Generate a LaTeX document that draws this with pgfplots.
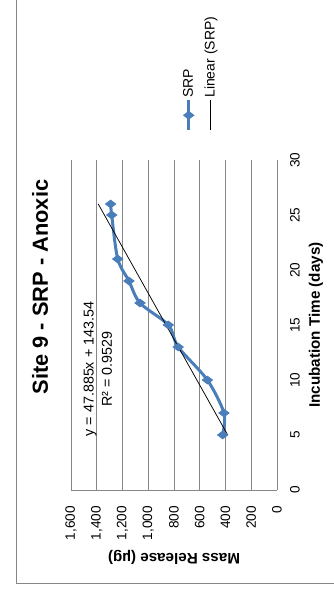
\documentclass[border=0pt]{standalone}
\usepackage{fontspec}
\setmainfont{Liberation Sans}
\usepackage{pgfplots}
\pgfplotsset{compat=1.18}
\definecolor{srpblue}{RGB}{74,126,187}
\definecolor{gridgray}{RGB}{134,134,134}
\begin{document}
\begin{tikzpicture}[rotate=90, transform shape]
% the chart is laid out unrotated (589 x 333) and turned a quarter turn
\useasboundingbox (0pt,0pt) rectangle (589pt,333pt);
\draw[gridgray, line width=0.75pt] (6pt,-5pt) -- (6pt,317pt) -- (600pt,317pt);
\node[font=\fontsize{21.8}{26}\selectfont\bfseries] at (302pt,293pt) {Site 9 - SRP - Anoxic};
\begin{axis}[
    at={(99pt,56pt)}, anchor=south west,
    width=330pt, height=206pt, scale only axis,
    xmin=0, xmax=30, ymin=0, ymax=1600,
    xtick={0,5,...,30}, ytick={0,200,...,1600},
    axis x line*=bottom, axis y line*=left,
    axis line style={gridgray, line width=0.75pt, -},
    major tick length=0pt,
    ymajorgrids, grid style={gridgray, line width=0.75pt},
    tick label style={font=\fontsize{13.6}{16}\selectfont},
    /pgf/number format/assume math mode=true,
    /pgf/number format/1000 sep={,},
    xticklabel style={anchor=center, inner sep=0pt, yshift=-18pt},
    yticklabel style={anchor=east, inner sep=0pt, xshift=-16pt},
    xlabel={Incubation Time (days)},
    ylabel={Mass Release (µg)},
    label style={font=\fontsize{15.2}{18}\selectfont\bfseries},
    xlabel style={at={(axis description cs:0.5,-0.189)}, anchor=center},
    ylabel style={at={(axis description cs:-0.203,0.5)}, anchor=center},
    legend style={draw=none, fill=none, at={(axis description cs:1.085,0.376)},
        anchor=west, font=\fontsize{14}{16}\selectfont, row sep=8pt,
        inner sep=0pt, nodes={inner sep=1pt}},
    legend cell align=left,
    legend image code/.code={\draw[mark repeat=2,mark phase=2,#1]
        plot coordinates {(0pt,0pt) (15pt,0pt) (30pt,0pt)};},
]
\addplot[srpblue, line width=3pt, smooth, tension=0.5, mark=diamond*,
    mark size=5pt, mark options={solid, line width=1pt}] coordinates {
    (5,422) (7,412) (10,541) (13,767) (15,844)
    (17,1064) (19,1150) (21,1237) (25,1284) (26,1292)
};
\addlegendentry{SRP}
\addplot[black, line width=0.75pt] coordinates {(5,382.97) (26,1388.55)};
\addlegendentry{Linear (SRP)}
\node[font=\fontsize{14.3}{17}\selectfont] at (axis cs:11,1452) {y = 47.885x + 143.54};
\node[font=\fontsize{14.3}{17}\selectfont] at (axis cs:11,1320) {R² = 0.9529};
\end{axis}
\end{tikzpicture}
\end{document}
